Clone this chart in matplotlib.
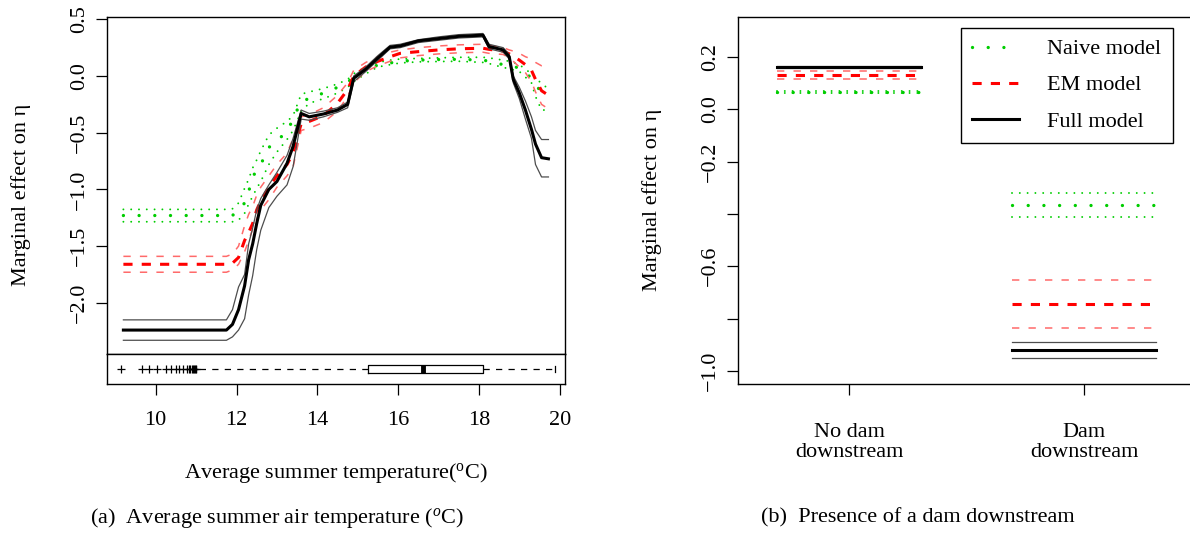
import matplotlib.pyplot as plt

plt.rcParams['font.family'] = 'Liberation Serif'
plt.rcParams['mathtext.fontset'] = 'custom'
plt.rcParams['mathtext.rm'] = 'Liberation Serif'
plt.rcParams['mathtext.it'] = 'Liberation Serif:italic'

# ---- panel (a): marginal effect of temperature ----
temp = [9.2, 11.75, 11.9, 12.05, 12.2, 12.3, 12.4, 12.5, 12.6, 12.8, 13.0, 13.25, 13.4,
        13.6, 13.8, 14.15, 14.5, 14.75, 14.9, 15.2, 15.5, 15.8, 16.05, 16.5, 17.0, 17.5,
        18.1, 18.25, 18.6, 18.75, 18.85, 19.0, 19.15, 19.3, 19.4, 19.55, 19.72]

naive_fit = [-1.23, -1.23, -1.23, -1.18, -1.12, -1.02, -0.89, -0.83, -0.78, -0.63, -0.57, -0.49, -0.38,
             -0.22, -0.20, -0.15, -0.10, -0.06, 0.0, 0.07, 0.095, 0.115, 0.13, 0.14, 0.145, 0.147,
             0.14, 0.13, 0.10, 0.09, 0.085, 0.07, 0.03, -0.02, -0.08, -0.14, -0.16]
naive_hi = [-1.176, -1.176, -1.17, -1.12, -0.99, -0.91, -0.81, -0.74, -0.66, -0.52, -0.46, -0.40, -0.35,
            -0.16, -0.14, -0.11, -0.07, -0.03, 0.02, 0.08, 0.12, 0.14, 0.15, 0.155, 0.16, 0.165,
            0.165, 0.16, 0.14, 0.13, 0.12, 0.10, 0.06, 0.02, -0.01, -0.07, -0.11]
naive_lo = [-1.285, -1.285, -1.285, -1.27, -1.21, -1.13, -1.06, -0.99, -0.93, -0.78, -0.67, -0.56, -0.48,
            -0.31, -0.24, -0.20, -0.15, -0.10, -0.05, 0.02, 0.08, 0.10, 0.115, 0.125, 0.128, 0.13,
            0.12, 0.11, 0.075, 0.065, 0.055, 0.04, -0.01, -0.06, -0.18, -0.30, -0.30]

em_fit = [-1.66, -1.66, -1.65, -1.60, -1.45, -1.38, -1.30, -1.18, -1.10, -0.98, -0.88, -0.78, -0.68,
          -0.42, -0.40, -0.35, -0.24, -0.12, 0.0, 0.08, 0.13, 0.17, 0.20, 0.215, 0.23, 0.24,
          0.245, 0.235, 0.22, 0.195, 0.175, 0.14, 0.10, 0.05, -0.03, -0.13, -0.17]
em_hi = [-1.59, -1.59, -1.57, -1.50, -1.32, -1.22, -1.15, -1.05, -0.98, -0.88, -0.78, -0.68, -0.55,
         -0.36, -0.34, -0.28, -0.17, -0.06, 0.05, 0.12, 0.17, 0.21, 0.23, 0.25, 0.265, 0.275,
         0.28, 0.27, 0.25, 0.23, 0.22, 0.20, 0.17, 0.15, 0.12, 0.09, 0.08]
em_lo = [-1.73, -1.73, -1.71, -1.66, -1.55, -1.45, -1.35, -1.26, -1.18, -1.09, -0.98, -0.88, -0.80,
         -0.48, -0.46, -0.41, -0.31, -0.18, -0.06, 0.04, 0.09, 0.13, 0.16, 0.18, 0.195, 0.205,
         0.21, 0.20, 0.19, 0.16, 0.13, 0.08, 0.03, -0.05, -0.14, -0.25, -0.29]

full_fit = [-2.24, -2.24, -2.19, -2.06, -1.85, -1.62, -1.48, -1.30, -1.14, -1.00, -0.93, -0.77, -0.62,
            -0.33, -0.36, -0.335, -0.30, -0.25, -0.02, 0.06, 0.16, 0.255, 0.265, 0.31, 0.33, 0.35,
            0.36, 0.26, 0.23, 0.17, -0.03, -0.15, -0.30, -0.47, -0.60, -0.72, -0.73]
full_hi = [-2.15, -2.15, -2.06, -1.86, -1.75, -1.48, -1.34, -1.18, -1.08, -0.96, -0.85, -0.70, -0.55,
           -0.30, -0.33, -0.31, -0.28, -0.23, 0.0, 0.08, 0.18, 0.27, 0.28, 0.32, 0.345, 0.365,
           0.375, 0.28, 0.25, 0.19, 0.0, -0.10, -0.22, -0.36, -0.48, -0.56, -0.56]
full_lo = [-2.33, -2.33, -2.30, -2.24, -2.14, -1.93, -1.76, -1.53, -1.36, -1.16, -1.06, -0.96, -0.80,
           -0.38, -0.39, -0.36, -0.32, -0.28, -0.05, 0.04, 0.14, 0.24, 0.25, 0.295, 0.315, 0.335,
           0.345, 0.24, 0.21, 0.15, -0.06, -0.20, -0.38, -0.55, -0.78, -0.89, -0.89]

# distribution of temperature (boxplot strip)
temp_q1, temp_med, temp_q3 = 15.25, 16.62, 18.09
temp_whislo, temp_whishi = 11.0, 19.88
temp_outliers = [9.13, 9.67, 9.84, 10.02, 10.25, 10.37, 10.49, 10.58, 10.68, 10.77,
                 10.82, 10.86, 10.9, 10.93, 10.96, 10.98, 11.0]

# ---- panel (b): dam downstream ----
dam_labels = ['No dam\ndownstream', 'Dam\ndownstream']
naive_dam = [0.064, -0.367]
naive_dam_hi = [0.068, -0.321]
naive_dam_lo = [0.060, -0.412]
em_dam = [0.130, -0.743]
em_dam_hi = [0.147, -0.652]
em_dam_lo = [0.115, -0.836]
full_dam = [0.162, -0.920]
full_dam_hi = [0.165, -0.888]
full_dam_lo = [0.159, -0.951]

GREEN = '#00CD00'
RED = '#FF0000'
RED_CI = '#FF6A6A'
BLACK_CI = '#4D4D4D'

naive_main = dict(color=GREEN, lw=2.4, ls=(0, (0.01, 4.7)), dash_capstyle='round')
naive_ci = dict(color=GREEN, lw=1.4, ls=(0, (0.01, 4.0)), dash_capstyle='round')
em_main = dict(color=RED, lw=2.2, ls=(0, (3, 3)))
em_ci = dict(color=RED_CI, lw=1.1, ls=(0, (4.8, 6)))
full_main = dict(color='black', lw=2.2)
full_ci = dict(color=BLACK_CI, lw=0.9)

FS = 16
W, H = 1190, 535


def minus(v):
    return ('%.1f' % v).replace('-', '\u2212')


fig = plt.figure(figsize=(W / 100, H / 100), dpi=100)
ax1 = fig.add_axes([106.7 / W, 1 - 354 / H, (565 - 106.7) / W, (354 - 16.7) / H])
axb = fig.add_axes([106.7 / W, 1 - 384.3 / H, (565 - 106.7) / W, (384.3 - 354) / H], sharex=ax1)
ax2 = fig.add_axes([737.7 / W, 1 - 384 / H, (1191 - 737.7) / W, (384 - 16.7) / H])

for ax in (ax1, axb, ax2):
    for s in ax.spines.values():
        s.set_linewidth(1.0)
    ax.tick_params(direction='out', length=8, width=0.9, labelsize=FS)

# panel (a)
ax1.plot(temp, naive_hi, **naive_ci)
ax1.plot(temp, naive_lo, **naive_ci)
ax1.plot(temp, naive_fit, **naive_main)
ax1.plot(temp, em_hi, **em_ci)
ax1.plot(temp, em_lo, **em_ci)
ax1.plot(temp, em_fit, **em_main)
ax1.plot(temp, full_hi, **full_ci)
ax1.plot(temp, full_lo, **full_ci)
ax1.plot(temp, full_fit, **full_main)

ax1.set_xlim(8.787, 20.13)
ax1.set_ylim(-2.451, 0.523)
yt1 = [-2.0, -1.5, -1.0, -0.5, 0.0, 0.5]
ax1.set_yticks(yt1)
ax1.set_yticklabels([minus(v) for v in yt1], rotation=90, va='center')
ax1.tick_params(axis='y', pad=5)
ax1.tick_params(axis='x', bottom=False, labelbottom=False)

stats = dict(med=temp_med, q1=temp_q1, q3=temp_q3, whislo=temp_whislo,
             whishi=temp_whishi, fliers=temp_outliers)
axb.bxp([stats], positions=[0.5], widths=0.25, orientation='horizontal',
        showfliers=True, capwidths=0.18,
        boxprops=dict(color='black', lw=0.9),
        medianprops=dict(color='black', lw=3.5),
        whiskerprops=dict(color='black', lw=0.9, ls=(0, (5, 5))),
        capprops=dict(color='black', lw=0.9),
        flierprops=dict(marker='+', markersize=5.5, markeredgecolor='black',
                        markeredgewidth=0.9, ls='none'))
axb.set_ylim(0, 1)
axb.set_yticks([])
axb.set_xticks([10, 12, 14, 16, 18, 20])
axb.set_xticklabels(['10', '12', '14', '16', '18', '20'])
axb.tick_params(axis='x', pad=11)

fig.text(335.9 / W, 1 - 473 / H, r'Average summer temperature($^{\mathrm{o}}$C)',
         ha='center', va='center', fontsize=FS)
fig.text(21 / W, 1 - 195 / H, 'Marginal effect on η', rotation=90,
         ha='center', va='center', fontsize=FS)

# panel (b)
pos = [1, 2]
hw = 0.305
series = [(naive_dam_hi, naive_ci), (naive_dam_lo, naive_ci), (naive_dam, naive_main),
          (em_dam_hi, em_ci), (em_dam_lo, em_ci), (em_dam, em_main),
          (full_dam_hi, full_ci), (full_dam_lo, full_ci), (full_dam, full_main)]
for vals, style in series:
    for p, v in zip(pos, vals):
        ax2.plot([p - hw, p + hw], [v, v], **style)

ax2.set_xlim(0.526, 2.455)
ax2.set_ylim(-1.0496, 0.353)
yt2 = [0.2, 0.0, -0.2, -0.4, -0.6, -0.8, -1.0]
ax2.set_yticks(yt2)
ax2.set_yticklabels([minus(v) if v not in (-0.4, -0.8) else '' for v in yt2],
                    rotation=90, va='center')
ax2.tick_params(axis='y', pad=5)
ax2.set_xticks(pos)
ax2.set_xticklabels(dam_labels, fontsize=FS, linespacing=1.05)
ax2.tick_params(axis='x', pad=20)

h1, = ax2.plot([], [], **naive_main)
h2, = ax2.plot([], [], **em_main)
h3, = ax2.plot([], [], **full_main)
leg = ax2.legend([h1, h2, h3], ['Naive model', 'EM model', 'Full model'],
                 loc='upper left', bbox_to_anchor=(0.492, 0.970), fontsize=FS,
                 fancybox=False, framealpha=1, edgecolor='black', borderpad=0.5,
                 handlelength=2.1, handletextpad=1.3, labelspacing=0.7, borderaxespad=0)
leg.get_frame().set_linewidth(1.0)

fig.text(652 / W, 1 - 200 / H, 'Marginal effect on η', rotation=90,
         ha='center', va='center', fontsize=FS)

fig.text(90 / W, 1 - 518 / H, r'(a)  Average summer air temperature ($^{o}$C)',
         ha='left', va='center', fontsize=16)
fig.text(918 / W, 1 - 518 / H, '(b)  Presence of a dam downstream',
         ha='center', va='center', fontsize=16)

fig.savefig('out.png', dpi=100)
